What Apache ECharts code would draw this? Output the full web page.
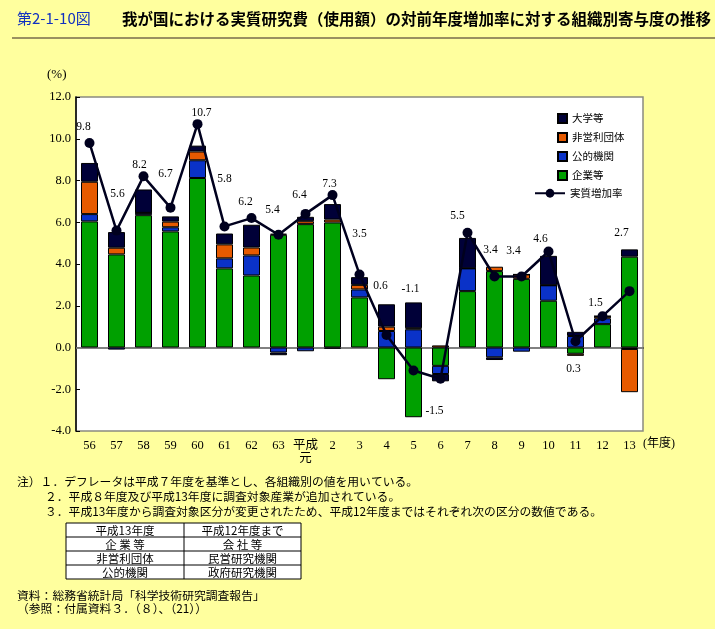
<!DOCTYPE html>
<html><head><meta charset="utf-8">
<script src="https://cdn.jsdelivr.net/npm/echarts@6/dist/echarts.min.js"></script>
<style>html,body{margin:0;padding:0;background:#FFFF9E;}#c{width:715px;height:629px;}</style>
</head><body><div id="c"></div>
<script>
const categories = ['56','57','58','59','60','61','62','63','平成\n元','2','3','4','5','6','7','8','9','10','11','12','13'];
const kigyo   = [6.04, 4.46, 6.34, 5.56, 8.12, 3.79, 3.45, 5.40, 5.91, 5.99, 2.40, -1.52, -3.34, -0.88, 2.70, 3.66, 3.29, 2.24, -0.30, 1.12, 4.35];
const koteki  = [0.35, -0.10, 0.11, 0.20, 0.85, 0.48, 0.96, -0.24, -0.18, -0.06, 0.38, 0.79, 0.87, -0.39, 1.09, -0.47, -0.20, 0.74, 0.55, 0.28, -0.07];
const hieiri  = [1.55, 0.32, 0, 0.27, 0.42, 0.67, 0.38, 0.05, 0.14, 0.14, 0.22, 0.21, 0.05, 0.10, 0, 0.21, 0.21, 0, -0.10, 0.10, -2.07];
const daigaku = [0.90, 0.75, 1.12, 0.25, 0.28, 0.52, 1.09, -0.13, 0.21, 0.74, 0.37, 1.07, 1.24, -0.35, 1.46, -0.13, 0, 1.41, 0.20, 0, 0.35];
const jisshitsu = [9.8, 5.6, 8.2, 6.7, 10.7, 5.8, 6.2, 5.4, 6.4, 7.3, 3.5, 0.6, -1.1, -1.5, 5.5, 3.4, 3.4, 4.6, 0.3, 1.5, 2.7];
const yTicks = [-4, 12, 2];
// label placement offsets (style only)
const labelOffsets = [[-6,-16],[1,-37],[-4,-11],[-5,-34],[4,-11],[0,-47],[-6,-16],[-6,-25],[-6,-19],[-3,-11],[0,-40],[-6,-49],[-3,-81],[-6,32],[-10,-17],[-4,-27],[-8,-26],[-8,-12],[-2,28],[-7,-13],[-8,-58]];

const serif = '"Liberation Serif","Times New Roman",serif';
const jp = '"Noto Sans CJK JP","Noto Sans CJK SC",sans-serif';
const COL = {green:'#00A000', blue:'#0A32C8', orange:'#E65A00', navy:'#000038', line:'#00001E'};

const chart = echarts.init(document.getElementById('c'), null, {renderer:'canvas'});

function barSeries(name, data, color, extra){
  return Object.assign({
    name, type:'bar', stack:'s', data, barWidth:17,
    itemStyle:{color, borderColor:'#000', borderWidth:1},
    emphasis:{disabled:true}
  }, extra||{});
}

const noteFont = '11.8px ' + jp;
const noteLines = [
  {x:17, y:482, t:'注）１．デフレータは平成７年度を基準とし、各組織別の値を用いている。'},
  {x:45, y:497, t:'２．平成８年度及び平成13年度に調査対象産業が追加されている。'},
  {x:45, y:512, t:'３．平成13年度から調査対象区分が変更されたため、平成12年度まではそれぞれ次の区分の数値である。'},
  {x:17, y:596, t:'資料：総務省統計局「科学技術研究調査報告」'},
  {x:17, y:609, t:'（参照：付属資料３．（８）、（21））'}
];
const tableRows = [['平成13年度','平成12年度まで'],['企 業 等','会 社 等'],['非営利団体','民営研究機関'],['公的機関','政府研究機関']];
const tX = 66, tY = 523, tW = 235, tMid = 184, rowH = 14;

const graphics = [
  {type:'text', left:17, top:11, style:{text:'第2-1-10図', font:'15px '+jp, fill:'#1030C0'}},
  {type:'text', left:122, top:11, style:{text:'我が国における実質研究費（使用額）の対前年度増加率に対する組織別寄与度の推移', font:'bold 15.5px '+jp, fill:'#000'}},
  {type:'rect', shape:{x:12, y:37, width:703, height:2}, style:{fill:'#9A9060'}},
  {type:'text', left:47, top:68, style:{text:'(%)', font:'13px '+serif, fill:'#000'}},
  {type:'text', left:643, top:438, style:{text:'(年度)', font:'12px '+serif+','+jp, fill:'#000'}},
  {type:'rect', shape:{x:tX, y:tY, width:tW, height:rowH*4}, style:{fill:'#fff', stroke:'#000', lineWidth:1}}
];
noteLines.forEach(n => graphics.push({type:'text', x:n.x, y:n.y, style:{text:n.t, font:noteFont, fill:'#000', textVerticalAlign:'middle'}}));
graphics.push({type:'line', shape:{x1:tMid, y1:tY, x2:tMid, y2:tY+rowH*4}, style:{stroke:'#000', lineWidth:1}});
for (let r=1;r<4;r++) graphics.push({type:'line', shape:{x1:tX, y1:tY+rowH*r, x2:tX+tW, y2:tY+rowH*r}, style:{stroke:'#000', lineWidth:1}});
tableRows.forEach((row,r)=>{
  graphics.push({type:'text', x:(tX+tMid)/2, y:tY+rowH*r+rowH/2+0.5, style:{text:row[0], font:'11.5px '+jp, fill:'#000', textAlign:'center', textVerticalAlign:'middle'}});
  graphics.push({type:'text', x:(tMid+tX+tW)/2, y:tY+rowH*r+rowH/2+0.5, style:{text:row[1], font:'11.5px '+jp, fill:'#000', textAlign:'center', textVerticalAlign:'middle'}});
});

const option = {
  backgroundColor:'#FFFF9E',
  animation:false,
  grid:{left:76, right:72, top:97, bottom:198, show:true, backgroundColor:'#fff', borderColor:'#8a8a80', borderWidth:1.5},
  legend:[
    {data:['大学等','非営利団体','公的機関','企業等'], orient:'vertical', left:552, top:108, itemWidth:9, itemHeight:9, itemGap:8, icon:'rect',
     textStyle:{fontFamily:jp, fontSize:10.5, color:'#000', lineHeight:11}, selectedMode:false},
    {data:['実質増加率'], orient:'vertical', left:529, top:183, itemWidth:30, itemHeight:11,
     textStyle:{fontFamily:jp, fontSize:10.5, color:'#000'}, selectedMode:false}
  ],
  xAxis:{type:'category', data:categories,
    axisLine:{lineStyle:{color:'#000', width:1.5}}, axisTick:{show:false},
    axisLabel:{fontFamily:serif+','+jp, fontSize:12.5, color:'#000', margin:8, lineHeight:13, interval:0}},
  yAxis:{type:'value', min:yTicks[0], max:yTicks[1], interval:yTicks[2],
    axisLine:{show:true, lineStyle:{color:'#000', width:1.5}},
    axisTick:{show:true, inside:true, length:4, lineStyle:{color:'#000'}},
    splitLine:{show:false},
    axisLabel:{fontFamily:serif, fontSize:12.5, color:'#000', margin:5, formatter:v=>v.toFixed(1)}},
  series:[
    barSeries('企業等', kigyo, COL.green, {markLine:{silent:true, symbol:'none', label:{show:false}, data:[{yAxis:0}], lineStyle:{color:'#999', type:'solid', width:1.5}, z:1}}),
    barSeries('公的機関', koteki, COL.blue),
    barSeries('非営利団体', hieiri, COL.orange),
    barSeries('大学等', daigaku, COL.navy),
    {name:'実質増加率', type:'line', z:10,
     data: jisshitsu.map((v,i)=>({value:v, label:{offset:labelOffsets[i]}})),
     symbol:'circle', symbolSize:10,
     lineStyle:{color:COL.line, width:2.5}, itemStyle:{color:COL.line},
     label:{show:true, position:'inside', fontFamily:serif, fontSize:11.5, color:'#000', formatter:p=>p.value.toFixed(1)},
     emphasis:{disabled:true}}
  ],
  graphic: graphics
};
chart.setOption(option);
</script></body></html>
